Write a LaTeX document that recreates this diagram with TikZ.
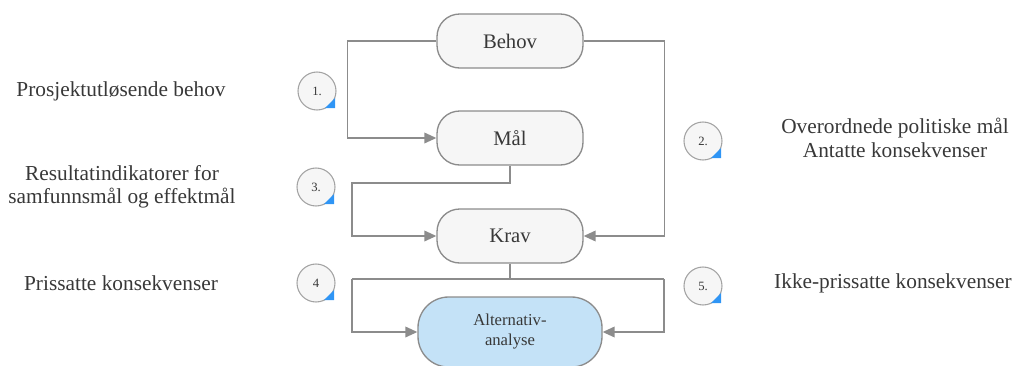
\documentclass[tikz,border=0pt]{standalone}
\usepackage{fontspec}
\setmainfont{Liberation Serif}
\usetikzlibrary{arrows.meta,calc}
\definecolor{linegray}{HTML}{8C8C8C}
\definecolor{boxfill}{HTML}{F6F6F6}
\definecolor{altfill}{HTML}{C4E2F7}
\definecolor{txt}{HTML}{383838}
\definecolor{markblue}{HTML}{2F95F5}
\begin{document}
\begin{tikzpicture}[x=0.75pt,y=-0.75pt,
  stagebox/.style={draw=linegray,line width=1pt,fill=boxfill,rounded corners=17pt,
    minimum width=109.5pt,minimum height=40.5pt,inner sep=0pt,text=txt,
    font=\rmfamily\fontsize{15.5}{18}\selectfont},
  altbox/.style={stagebox,fill=altfill,rounded corners=23pt,minimum width=138pt,
    minimum height=52.5pt,align=center,font=\rmfamily\fontsize{12.5}{15}\selectfont},
  numcircle/.style={circle,draw=linegray!80,line width=0.8pt,fill=boxfill,
    minimum size=28.5pt,inner sep=0pt,text=txt,font=\rmfamily\fontsize{9.5}{11}\selectfont},
  sidelabel/.style={text=txt,align=center,font=\rmfamily\fontsize{16}{17.5}\selectfont},
  conn/.style={draw=linegray,line width=1.1pt},
  arr/.style={conn,-{Triangle[length=9pt,width=8pt]}}]
\useasboundingbox (0,0) rectangle (1015,365);

% stage boxes
\node[stagebox] (behov) at (510,41) {Behov};
\node[stagebox] (mal) at (510,138) {Mål};
\node[stagebox] (krav) at (510,236) {Krav};
\node[altbox] (alt) at (510,332) {Alternativ-\\analyse};

% junction points of the connectors
\coordinate (jm) at (352,183);
\coordinate (jk) at (510,279);
\coordinate (jl) at (352,279);
\coordinate (jr) at (664,279);

% connectors
\draw[arr] (behov.west) -- ++(-89,0) |- (mal.west);
\draw[arr] (behov.east) -- ++(81,0) |- (krav.east);
\draw[arr] (mal.south) |- (jm) |- (krav.west);
\draw[conn] (krav.south) -- (jk) -- (jl);
\draw[conn] (jk) -- (jr);
\draw[arr] (jl) |- (alt.west);
\draw[arr] (jr) |- (alt.east);

% numbered markers
\node[numcircle] (n1) at (317,91) {1.};
\node[numcircle] (n2) at (703,141) {2.};
\node[numcircle] (n3) at (316,187) {3.};
\node[numcircle] (n4) at (316,283) {4};
\node[numcircle] (n5) at (703,286) {5.};
\foreach \n in {n1,n2,n3,n4,n5}{
  \fill[markblue] ($(\n.center)+(18,7)$) -- ($(\n.center)+(18,17)$) -- ($(\n.center)+(8,17)$) -- cycle;
}

% side labels
\node[sidelabel] (l1) at (121,91) {Prosjektutløsende behov};
\node[sidelabel] (l3) at (122,187) {Resultatindikatorer for\\samfunnsmål og effektmål};
\node[sidelabel] (l4) at (121,283) {Prissatte konsekvenser};
\node[sidelabel] (l2) at (895,138) {Overordnede politiske mål\\Antatte konsekvenser};
\node[sidelabel] (l5) at (893,283) {Ikke-prissatte konsekvenser};
\end{tikzpicture}
\end{document}
